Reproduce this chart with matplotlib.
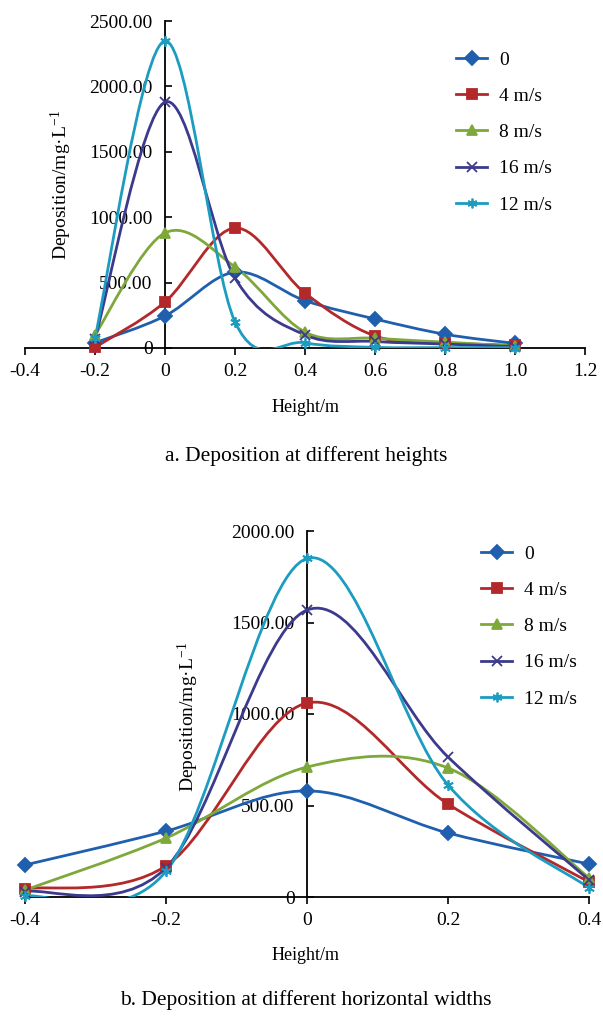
import numpy as np
import matplotlib
matplotlib.use("Agg")
import matplotlib.pyplot as plt
from matplotlib.path import Path
from matplotlib.patches import PathPatch
from matplotlib.lines import Line2D

plt.rcParams['font.family'] = ['Liberation Serif', 'DejaVu Serif']
plt.rcParams['mathtext.fontset'] = 'custom'
plt.rcParams['mathtext.rm'] = 'Liberation Serif'
plt.rcParams['mathtext.default'] = 'rm'

# ---------------- data ----------------
series_names = ["0", "4 m/s", "8 m/s", "16 m/s", "12 m/s"]
colors = ["#1f5fae", "#b3282a", "#7fa83a", "#3c3a8c", "#1b9cc0"]
markers = ["D", "s", "^", "x", (6, 2, 0)]

heights_a = [-0.2, 0.0, 0.2, 0.4, 0.6, 0.8, 1.0]
a_0 = [40, 245, 580, 362, 222, 105, 35]
a_4 = [5, 352, 917, 420, 92, 40, 20]
a_8 = [100, 880, 620, 122, 75, 45, 15]
a_16 = [70, 1880, 535, 100, 50, 30, 10]
a_12 = [80, 2347, 200, 40, 5, 3, 3]

widths_b = [-0.4, -0.2, 0.0, 0.2, 0.4]
b_0 = [175, 360, 580, 350, 180]
b_4 = [45, 170, 1060, 508, 82]
b_8 = [38, 322, 710, 705, 105]
b_16 = [30, 160, 1568, 765, 93]
b_12 = [5, 140, 1850, 612, 50]

xticks_a = [-0.4, -0.2, 0.0, 0.2, 0.4, 0.6, 0.8, 1.0, 1.2]
xticklabels_a = ["-0.4", "-0.2", "0", "0.2", "0.4", "0.6", "0.8", "1.0", "1.2"]
yticks_a = [0, 500, 1000, 1500, 2000, 2500]
yticklabels_a = ["0", "500.00", "1000.00", "1500.00", "2000.00", "2500.00"]

xticks_b = [-0.4, -0.2, 0.0, 0.2, 0.4]
xticklabels_b = ["-0.4", "-0.2", "0", "0.2", "0.4"]
yticks_b = [0, 500, 1000, 1500, 2000]
yticklabels_b = ["0", "500.00", "1000.00", "1500.00", "2000.00"]

FS = 14


def smooth_path(x, y):
    """Excel-like smoothed line: Catmull-Rom converted to cubic Bezier."""
    x = np.asarray(x, float)
    y = np.asarray(y, float)
    n = len(x)
    verts = [(x[0], y[0])]
    codes = [Path.MOVETO]
    for i in range(n - 1):
        i0 = max(i - 1, 0)
        i3 = min(i + 2, n - 1)
        c1 = (x[i] + (x[i + 1] - x[i0]) / 6, y[i] + (y[i + 1] - y[i0]) / 6)
        c2 = (x[i + 1] - (x[i3] - x[i]) / 6, y[i + 1] - (y[i3] - y[i]) / 6)
        verts += [c1, c2, (x[i + 1], y[i + 1])]
        codes += [Path.CURVE4] * 3
    return Path(verts, codes)


def draw_panel(ax, xs, ys_list, xlim, ylim, xticks, xtl, yticks, ytl):
    for ys, c, m, name in zip(ys_list, colors, markers, series_names):
        patch = PathPatch(smooth_path(xs, ys), facecolor='none', edgecolor=c,
                          lw=2.0, zorder=3)
        ax.add_patch(patch)
        ax.plot(xs, ys, linestyle='none', marker=m, color=c, ms=7.5,
                mew=1.3, zorder=4, clip_on=False)
    ax.set_xlim(*xlim)
    ax.set_ylim(*ylim)
    ax.spines['top'].set_visible(False)
    ax.spines['right'].set_visible(False)
    ax.spines['left'].set_position(('data', 0))
    for s in ('left', 'bottom'):
        ax.spines[s].set_linewidth(1.3)
        ax.spines[s].set_zorder(2)
    ax.set_xticks(xticks)
    ax.set_xticklabels(xtl, fontsize=FS)
    ax.set_yticks(yticks)
    ax.set_yticklabels(ytl, fontsize=FS)
    ax.tick_params(axis='x', direction='out', length=5, width=1.2, pad=6)
    ax.tick_params(axis='y', direction='in', length=5, width=1.2, pad=9)
    ax.patch.set_alpha(0)
    handles = [Line2D([], [], color=c, marker=m, lw=2.0, ms=7, mew=1.3)
               for c, m in zip(colors, markers)]
    return handles


fig = plt.figure(figsize=(6.03, 10.17), dpi=100)
W, H = 603, 1017


def axes_px(left, right, top, bottom):
    return fig.add_axes([left / W, 1 - bottom / H, (right - left) / W, (bottom - top) / H])


leg_kw = dict(loc='upper left', frameon=False, fontsize=FS, handlelength=1.6,
              labelspacing=0.96, handletextpad=0.6, borderaxespad=0, borderpad=0)

ax1 = axes_px(25, 585, 21, 348)
h1 = draw_panel(ax1, heights_a, [a_0, a_4, a_8, a_16, a_12], (-0.4, 1.2), (0, 2500),
                xticks_a, xticklabels_a, yticks_a, yticklabels_a)
fig.text(61 / W, 1 - 185 / H, "Deposition/mg·L$^{-1}$",
         rotation=90, ha='center', va='center', fontsize=FS)
fig.legend(h1, series_names, bbox_to_anchor=(456 / W, 1 - 51 / H), **leg_kw)
fig.text(306 / W, 1 - 407 / H, "Height/m", ha='center', va='center', fontsize=13)
fig.text(306 / W, 1 - 456 / H, "a. Deposition at different heights", ha='center',
         va='center', fontsize=15.5)

ax2 = axes_px(25, 589, 531, 897)
h2 = draw_panel(ax2, widths_b, [b_0, b_4, b_8, b_16, b_12], (-0.4, 0.4), (0, 2000),
                xticks_b, xticklabels_b, yticks_b, yticklabels_b)
fig.text(188 / W, 1 - 717 / H, "Deposition/mg·L$^{-1}$",
         rotation=90, ha='center', va='center', fontsize=FS)
fig.legend(h2, series_names, bbox_to_anchor=(481 / W, 1 - 545 / H), **leg_kw)
fig.text(306 / W, 1 - 955 / H, "Height/m", ha='center', va='center', fontsize=13)
fig.text(306 / W, 1 - 1000 / H, "b. Deposition at different horizontal widths",
         ha='center', va='center', fontsize=15.5)

fig.savefig("out.png", dpi=100)
